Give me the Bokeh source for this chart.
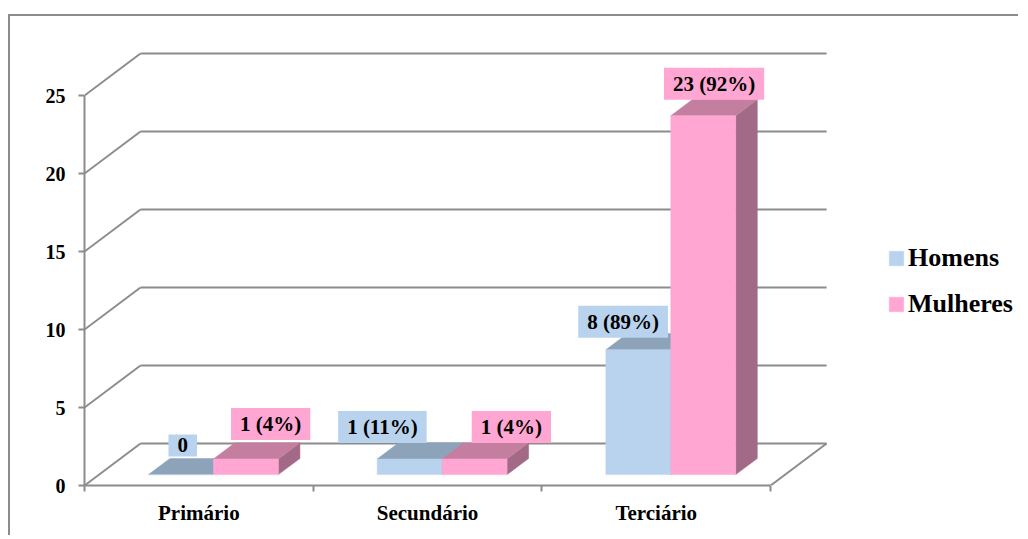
from bokeh.plotting import figure
from bokeh.models import Range1d, FixedTicker, Legend, LegendItem
from bokeh.embed import file_html
from bokeh.resources import INLINE
from bokeh.core.properties import value

# ---------------- data ----------------
categories = ["Primário", "Secundário", "Terciário"]
homens = [0, 1, 8]
mulheres = [1, 1, 23]
series_names = ["Homens", "Mulheres"]
y_ticks = [0, 5, 10, 15, 20, 25]


def make_labels(vals):
    tot = sum(vals)
    out = []
    for v in vals:
        out.append("0" if v == 0 else f"{v} ({round(100 * v / tot)}%)")
    return out


lab_h = make_labels(homens)
lab_m = make_labels(mulheres)

# ---------------- styles / layout ----------------
FONT = value("Liberation Serif")
GRID = "#8C8C8C"
MEN = dict(front="#B9D3EE", top="#8CA3B9", side="#7A90A6")
WOM = dict(front="#FFA6D3", top="#C47FA0", side="#A26A86")

PX_CAT = 228.7      # px per category
PX_VAL = 15.6       # px per value unit
DXc = 56 / PX_CAT   # depth offset (x, category units)
DYv = 42 / PX_VAL   # depth offset (y, value units)
D0, D1 = 0.26, 0.645  # bar depth span
BAR_W = 0.284

W, H = 1010, 521
ML, MT = 74, 22
FRAME_BOTTOM = 469
MB = H - FRAME_BOTTOM
x_end = (W - ML) / PX_CAT
y_end = (FRAME_BOTTOM - MT) / PX_VAL

# label offsets in screen px (manual placement in the source)
off_h = dict(x=[-9, -38, -26], y=[21, 24, 20])
off_m = dict(x=[14, 26, 0], y=[27, 24, 24])

p = figure(width=W, height=H, x_range=Range1d(0, x_end), y_range=Range1d(0, y_end),
           output_backend="svg", toolbar_location=None,
           min_border_left=ML, min_border_top=MT, min_border_bottom=MB, min_border_right=0)
p.outline_line_color = None
p.grid.visible = False
p.background_fill_color = "white"
p.border_fill_color = "white"
p.margin = (14, 0, 0, 8)
p.styles = {"border-left": "2px solid #8C8C8C", "border-top": "2px solid #8C8C8C"}

n = len(categories)

# ---------------- walls ----------------
back_y = [t + DYv for t in y_ticks]
p.segment(x0=DXc, y0=back_y, x1=n + DXc, y1=back_y, line_color=GRID, line_width=2)
p.segment(x0=0, y0=y_ticks, x1=DXc, y1=back_y, line_color=GRID, line_width=2)
p.segment(x0=[n], y0=[0], x1=[n + DXc], y1=[DYv], line_color=GRID, line_width=2)


# ---------------- bars ----------------
def bar_geom(vals, s):
    L, R, B, T, tops_x, tops_y, side_x, side_y, cx, cy = ([] for _ in range(10))
    for i, v in enumerate(vals):
        xl = i + 0.5 - BAR_W + s * BAR_W
        xr = xl + BAR_W
        L.append(xl + D0 * DXc)
        R.append(xr + D0 * DXc)
        B.append(D0 * DYv)
        T.append(v + D0 * DYv)
        tops_x.append([xl + D0 * DXc, xr + D0 * DXc, xr + D1 * DXc, xl + D1 * DXc])
        tops_y.append([v + D0 * DYv, v + D0 * DYv, v + D1 * DYv, v + D1 * DYv])
        side_x.append([xr + D0 * DXc, xr + D1 * DXc, xr + D1 * DXc, xr + D0 * DXc])
        side_y.append([D0 * DYv, D1 * DYv, v + D1 * DYv, v + D0 * DYv])
        dm = (D0 + D1) / 2
        cx.append(xl + BAR_W / 2 + dm * DXc)
        cy.append(v + dm * DYv)
    return dict(L=L, R=R, B=B, T=T, tx=tops_x, ty=tops_y, sx=side_x, sy=side_y, cx=cx, cy=cy)


gh = bar_geom(homens, 0)
gm = bar_geom(mulheres, 1)

for g, c in ((gh, MEN), (gm, WOM)):
    p.patches(xs=g["sx"], ys=g["sy"], fill_color=c["side"], line_color=c["side"], line_width=0.5)
for g, c in ((gh, MEN), (gm, WOM)):
    p.patches(xs=g["tx"], ys=g["ty"], fill_color=c["top"], line_color=c["top"], line_width=0.5)
r_h = p.quad(left=gh["L"], right=gh["R"], bottom=gh["B"], top=gh["T"],
             fill_color=MEN["front"], line_color=MEN["front"], line_width=0.5)
r_m = p.quad(left=gm["L"], right=gm["R"], bottom=gm["B"], top=gm["T"],
             fill_color=WOM["front"], line_color=WOM["front"], line_width=0.5)

# ---------------- data labels ----------------
for g, labs, off, c in ((gh, lab_h, off_h, MEN), (gm, lab_m, off_m, WOM)):
    p.text(x=g["cx"], y=g["cy"], text=labs, x_offset=off["x"], y_offset=[-v for v in off["y"]],
           text_font=FONT, text_font_style="bold", text_font_size="21px",
           text_color="black", text_align="center", text_baseline="middle",
           background_fill_color=c["front"], padding=(9, 4))

# ---------------- axes ----------------
yax = p.yaxis[0]
yax.ticker = FixedTicker(ticks=y_ticks, minor_ticks=[])
yax.bounds = (0, max(y_ticks))
yax.axis_line_color = GRID
yax.axis_line_width = 2
yax.major_tick_line_color = GRID
yax.major_tick_line_width = 2
yax.major_tick_out = 6
yax.major_tick_in = 0
yax.minor_tick_line_color = None
yax.major_label_standoff = 13
yax.major_label_text_font = "Liberation Serif"
yax.major_label_text_font_style = "bold"
yax.major_label_text_font_size = "20px"
yax.major_label_text_color = "black"

xax = p.xaxis[0]
centers = [i + 0.5 for i in range(n)]
xax.ticker = FixedTicker(ticks=centers, minor_ticks=list(range(n + 1)))
xax.major_label_overrides = {c: lab for c, lab in zip(centers, categories)}
xax.bounds = (0, n)
xax.axis_line_color = GRID
xax.axis_line_width = 2
xax.major_tick_line_color = None
xax.major_tick_out = 0
xax.major_tick_in = 0
xax.minor_tick_line_color = GRID
xax.minor_tick_line_width = 2
xax.minor_tick_out = 6
xax.minor_tick_in = 0
xax.major_label_standoff = 9
xax.major_label_text_font = "Liberation Serif"
xax.major_label_text_font_style = "bold"
xax.major_label_text_font_size = "21px"
xax.major_label_text_color = "black"

# ---------------- legend ----------------
legend = Legend(items=[LegendItem(label=series_names[0], renderers=[r_h]),
                       LegendItem(label=series_names[1], renderers=[r_m])],
                location=(803, 166), orientation="vertical",
                label_text_font="Liberation Serif", label_text_font_style="bold",
                label_text_font_size="26px", label_text_color="black",
                glyph_width=18, glyph_height=18, label_standoff=3, spacing=16,
                padding=0, margin=0, border_line_color=None, background_fill_alpha=0)
p.add_layout(legend, "center")

open("out.html", "w").write(file_html(p, INLINE))
